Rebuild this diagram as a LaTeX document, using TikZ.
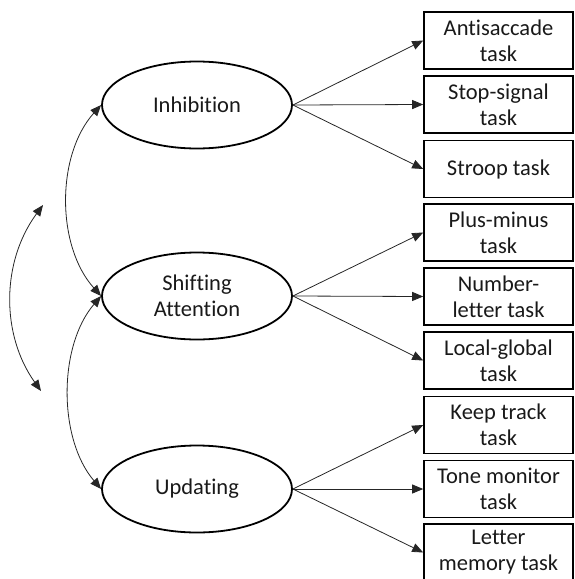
\documentclass[tikz,border=0pt]{standalone}
\usepackage{fontspec}
\setmainfont{Carlito}[Ligatures=NoCommon]
\usetikzlibrary{shapes.geometric,arrows.meta}
\begin{document}
\begin{tikzpicture}[x=1pt,y=-1pt,
  txt/.style={font=\fontsize{22.5}{26}\selectfont, text=black!90},
  taskbox/.style={txt, draw, line width=1.6pt, minimum width=149pt, minimum height=57pt, inner sep=0pt, align=center},
  latent/.style={txt, ellipse, draw, line width=1.8pt, minimum width=190pt, minimum height=87pt, inner sep=0pt, align=center},
  arr/.style={-{Triangle[length=11pt,width=9pt]}, line width=0.8pt, black!85},
  dbl/.style={{Triangle[length=11pt,width=9pt]}-{Triangle[length=11pt,width=9pt]}, line width=0.8pt, black!85}]
\useasboundingbox (0,0) rectangle (575,579);
% latent factors
\node[latent] (inh) at (197,105) {Inhibition};
\node[latent] (shi) at (197,296) {Shifting\\Attention};
\node[latent] (upd) at (197,489) {Updating};
% tasks
\node[taskbox] (t1) at (498.5,40.5) {Antisaccade\\task};
\node[taskbox] (t2) at (498.5,104.5) {Stop-signal\\task};
\node[taskbox] (t3) at (498.5,169) {Stroop task};
\node[taskbox] (t4) at (498.5,232.5) {Plus-minus\\task};
\node[taskbox] (t5) at (498.5,296.5) {Number-\\letter task};
\node[taskbox] (t6) at (498.5,360.5) {Local-global\\task};
\node[taskbox] (t7) at (498.5,425) {Keep track\\task};
\node[taskbox] (t8) at (498.5,489) {Tone monitor\\task};
\node[taskbox] (t9) at (498.5,552.5) {Letter\\memory task};
% loadings
\foreach \s/\t in {inh/t1,inh/t2,inh/t3,shi/t4,shi/t5,shi/t6,upd/t7,upd/t8,upd/t9}
  \draw[arr] (\s.east) -- (\t.west);
% correlations
\draw[dbl] (inh.west) .. controls +(-45,50) and +(-45,-50) .. (shi.west);
\draw[dbl] (shi.west) .. controls +(-43,50) and +(-43,-50) .. (upd.west);
\coordinate (c1) at (43,205);
\coordinate (c2) at (41,391);
\draw[dbl] (c1) .. controls (1,262) and (1,335) .. (c2);
\end{tikzpicture}
\end{document}
